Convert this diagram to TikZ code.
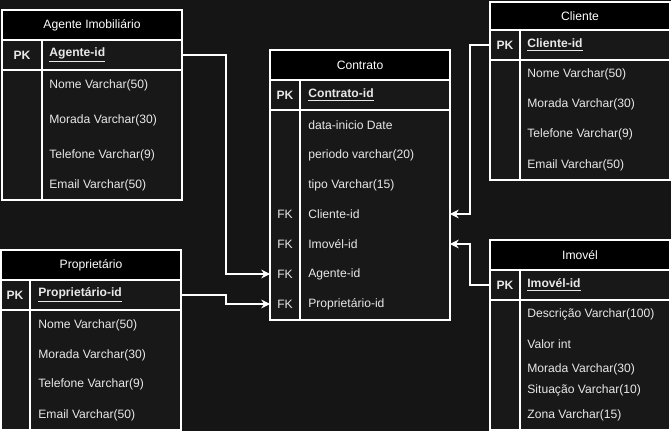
\documentclass[tikz,border=0pt]{standalone}
\usepackage{fontspec}
\setmainfont{Liberation Sans}
\usetikzlibrary{arrows.meta}
\definecolor{bgdark}{HTML}{151515}
\definecolor{bodydark}{HTML}{181818}
\definecolor{txt}{HTML}{E8E8E8}
\begin{document}
\begin{tikzpicture}[
    x=0.02cm, y=-0.02cm,
    font=\fontsize{6.9}{8}\selectfont, text=txt,
    tbl/.style={draw=white, line width=0.6pt, fill=bodydark},
    head/.style={draw=white, line width=0.6pt, fill=black, minimum width=3.6cm, inner sep=0pt, outer sep=0pt, text=white},
    pkrow/.style={draw=white, line width=0.6pt, minimum width=3.6cm, minimum height=0.6cm, inner sep=0pt, outer sep=0pt},
    fkrow/.style={minimum width=3.6cm, minimum height=0.5cm, inner sep=0pt, outer sep=0pt},
    key/.style={font=\fontsize{6.9}{8}\selectfont\bfseries},
    field/.style={anchor=west, inner sep=0pt},
    link/.style={draw=white, line width=0.6pt, -{Stealth[length=5pt,width=5pt]}}
]
    % --- Background ---
    \fill[bgdark] (0,0) rectangle (671,431);
    \useasboundingbox (0,0) rectangle (671,431);

    % --- Agente Imobiliario ---
    \draw[tbl] (2,10) rectangle (182,200);
    \node[head, minimum height=0.6cm] (agH) at (92,25) {Agente Imobiliário};
    \node[pkrow] (agPK) at (92,55) {};
    \draw[white, line width=0.6pt] (42,40) -- (42,200);
    \node[key] (agK) at (22,55) {PK};
    \node[field] (agId) at (49,55) {\textbf{\underline{Agente-id}}};
    \foreach \y/\t [count=\i] in {85/Nome Varchar(50), 120/Morada Varchar(30), 155/Telefone Varchar(9), 185/Email Varchar(50)}
        \node[field] (ag\i) at (49,\y) {\t};

    % --- Cliente ---
    \draw[tbl] (490,2) rectangle (670,180);
    \node[head, minimum height=0.56cm] (clH) at (580,16) {Cliente};
    \node[pkrow] (clPK) at (580,45) {};
    \draw[white, line width=0.6pt] (520,30) -- (520,180);
    \node[key] (clK) at (505,45) {PK};
    \node[field] (clId) at (527,45) {\textbf{\underline{Cliente-id}}};
    \foreach \y/\t [count=\i] in {74/Nome Varchar(50), 104/Morada Varchar(30), 134/Telefone Varchar(9), 165/Email Varchar(50)}
        \node[field] (cl\i) at (527,\y) {\t};

    % --- Contrato ---
    \draw[tbl] (270,50) rectangle (450,320);
    \node[head, minimum height=0.6cm] (ctH) at (360,65) {Contrato};
    \node[pkrow] (ctPK) at (360,95) {};
    \draw[white, line width=0.6pt] (300,110) -- (300,320);
    \draw[white, line width=0.6pt] (300,80) -- (300,110);
    \node[key] (ctK) at (285,95) {PK};
    \node[field] (ctId) at (308,95) {\textbf{\underline{Contrato-id}}};
    \foreach \y/\t [count=\i] in {125/data-inicio Date, 155/periodo varchar(20), 185/tipo Varchar(15)}
        \node[field] (ct\i) at (308,\y) {\t};
    \node[fkrow] (ctCl) at (360,214) {};
    \node[fkrow] (ctIm) at (360,244) {};
    \node[fkrow] (ctAg) at (360,274) {};
    \node[fkrow] (ctPr) at (360,304) {};
    \foreach \n/\t in {Cl/Cliente-id, Im/Imovél-id, Ag/Agente-id, Pr/Proprietário-id} {
        \node (fk\n) at (285,0 |- ct\n) {FK};
        \node[field] (fd\n) at (308,0 |- ct\n) {\t};
    }

    % --- Proprietario ---
    \draw[tbl] (1,250) rectangle (181,430);
    \node[head, minimum height=0.6cm] (prH) at (91,265) {Proprietário};
    \node[pkrow] (prPK) at (91,295) {};
    \draw[white, line width=0.6pt] (30,280) -- (30,430);
    \node[key] (prK) at (15,295) {PK};
    \node[field] (prId) at (38,295) {\textbf{\underline{Proprietário-id}}};
    \foreach \y/\t [count=\i] in {325/Nome Varchar(50), 355/Morada Varchar(30), 384/Telefone Varchar(9), 415/Email Varchar(50)}
        \node[field] (pr\i) at (38,\y) {\t};

    % --- Imovel ---
    \draw[tbl] (490,240) rectangle (670,430);
    \node[head, minimum height=0.6cm] (imH) at (580,255) {Imovél};
    \node[pkrow] (imPK) at (580,285) {};
    \draw[white, line width=0.6pt] (520,270) -- (520,430);
    \node[key] (imK) at (505,285) {PK};
    \node[field] (imId) at (527,285) {\textbf{\underline{Imovél-id}}};
    \foreach \y/\t [count=\i] in {314/Descrição Varchar(100), 344/Valor int, 369/Morada Varchar(30), 390/Situação Varchar(10), 415/Zona Varchar(15)}
        \node[field] (im\i) at (527,\y) {\t};

    % --- Relations ---
    \draw[link] (agPK.east) -| (226,274) -- (ctAg.west);
    \draw[link] (prPK.east) -| (226,304) -- (ctPr.west);
    \draw[link] (clPK.west) -| (470,214) -- (ctCl.east);
    \draw[link] (imPK.west) -| (470,244) -- (ctIm.east);

\end{tikzpicture}
\end{document}
